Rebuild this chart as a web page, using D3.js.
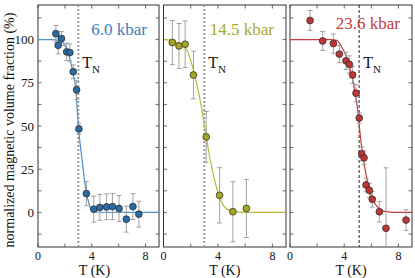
<!DOCTYPE html>
<html>
<head>
<meta charset="utf-8">
<script src="https://cdn.jsdelivr.net/npm/d3@7"></script>
<style>
  body { margin: 0; background: #fff; }
</style>
</head>
<body>
<div id="chart"></div>
<script>
// 6.0 kbar
var t60 = [1.33, 1.5, 1.75, 2.13, 2.37, 2.62, 2.87, 3.04, 3.6, 4.15, 4.6, 5.1, 5.54, 6.03, 6.57, 7.06, 7.5];
var f60 = [103.4, 96.7, 100.6, 92.9, 92.5, 81.4, 70.9, 48.3, 10.9, 1.9, 2.9, 3.2, 3.4, 2.3, -3.9, 3.4, -1];
var e60 = [4.8, 5, 4, 5, 5, 4, 5.5, 3, 7, 7.5, 7.5, 7.5, 7.5, 7.5, 7.5, 7.5, 7.5];
var fitT60 = [0, 1.0, 1.5, 1.88, 2.25, 2.57, 2.81, 3.0, 3.3, 3.55, 3.8, 4.1, 4.5, 9];
var fitF60 = [100, 100, 99.5, 98, 92, 82, 71, 50, 29, 13.4, 4.8, 1, 0.1, 0];

// 14.5 kbar
var t145 = [0.65, 1.14, 1.59, 2.2, 3.14, 4.12, 5.1, 6.09];
var f145 = [98.3, 96.3, 97.3, 79.5, 43.7, 9.9, 0.4, 2.3];
var e145 = [12.7, 13, 13.5, 13.8, 14.7, 16, 17.4, 16.8];
var fitT145 = [0, 0.5, 1.14, 1.59, 1.96, 2.32, 2.64, 2.94, 3.14, 3.43, 3.8, 4.17, 4.66, 5.4, 6.5, 9];
var fitF145 = [100, 99.8, 97.5, 95.7, 89, 78.5, 67, 53.6, 43.7, 30.6, 17.2, 7.6, 1.9, 0.3, 0, 0];

// 23.6 kbar
var t236 = [1.48, 2.41, 3.2, 3.64, 4.13, 4.38, 4.62, 4.87, 5.11, 5.29, 5.46, 5.61, 5.85, 6.07, 6.59, 7.08, 8.56];
var f236 = [111, 99.2, 97.7, 91.6, 87.7, 85.6, 79.5, 69, 54.6, 33.9, 31.6, 15.9, 12.8, 7.6, 0.4, -9.2, -4.4];
var e236 = [5.8, 5.5, 5.5, 5, 5, 5, 5, 5, 3, 4, 4, 4, 4, 4.5, 6, 35, 6];
var fitT236 = [0, 3.0, 3.45, 3.81, 4.06, 4.3, 4.55, 4.8, 5.0, 5.15, 5.3, 5.45, 5.6, 5.78, 6.15, 6.64, 7.25, 8, 9];
var fitF236 = [100, 100, 99.5, 95.7, 92, 86.2, 79.5, 69, 59, 47, 37, 29, 22.5, 15.3, 6.7, 1.9, 0.3, 0, 0];

var labels = ["6.0 kbar", "14.5 kbar", "23.6 kbar"];
var tN = [3.0, 3.0, 5.1];
var yTickLabels = [0, 25, 50, 75, 100];
var xTickLabels = [0, 4, 8];

(function() {
    var width = 415, height = 278;
    var yTop = 5, yBottom = 247;
    var serif = "'Liberation Serif', 'Times New Roman', serif";

    var panels = [
        { x0: 38, x1: 159, t: t60, f: f60, e: e60, ft: fitT60, ff: fitF60,
          dot: "#2c6aa3", line: "#4f8fcc", text: "#3b7dbd", labelY: 35, tnStyle: "dot", xLabelT: 4.2 },
        { x0: 163.5, x1: 286, t: t145, f: f145, e: e145, ft: fitT145, ff: fitF145,
          dot: "#a6a624", line: "#b8b93a", text: "#aaaa22", labelY: 35, tnStyle: "dot", xLabelT: 4.5 },
        { x0: 290, x1: 412, t: t236, f: f236, e: e236, ft: fitT236, ff: fitF236,
          dot: "#bf3636", line: "#c43c3c", text: "#c63a3a", labelY: 29, tnStyle: "dash", xLabelT: 4.5 }
    ];

    var svg = d3.select("#chart").append("svg")
        .attr("width", width)
        .attr("height", height)
        .attr("font-family", serif);

    var y = d3.scaleLinear().domain([-20, 120]).range([yBottom, yTop]);
    var yTicks = d3.range(-12.5, 120, 12.5);
    var xTicks = d3.range(0, 10, 2);

    panels.forEach(function(p, i) {
        var x = d3.scaleLinear().domain([0, 9]).range([p.x0, p.x1]);
        var g = svg.append("g");

        svg.append("clipPath").attr("id", "clip" + i)
            .append("rect")
            .attr("x", p.x0).attr("y", yTop)
            .attr("width", p.x1 - p.x0).attr("height", yBottom - yTop);

        // ticks, inward on all four sides
        var ticks = g.append("g").attr("stroke", "#444").attr("stroke-width", 0.8);
        yTicks.forEach(function(v) {
            ticks.append("line").attr("x1", p.x0).attr("x2", p.x0 + 3.5).attr("y1", y(v)).attr("y2", y(v));
            ticks.append("line").attr("x1", p.x1).attr("x2", p.x1 - 3.5).attr("y1", y(v)).attr("y2", y(v));
        });
        xTicks.forEach(function(v) {
            ticks.append("line").attr("x1", x(v)).attr("x2", x(v)).attr("y1", yBottom).attr("y2", yBottom - 3.5);
            ticks.append("line").attr("x1", x(v)).attr("x2", x(v)).attr("y1", yTop).attr("y2", yTop + 3.5);
        });

        // frame
        g.append("rect")
            .attr("x", p.x0).attr("y", yTop)
            .attr("width", p.x1 - p.x0).attr("height", yBottom - yTop)
            .attr("fill", "none").attr("stroke", "#333").attr("stroke-width", 1);

        // T_N marker
        var tn = g.append("line")
            .attr("x1", x(tN[i])).attr("x2", x(tN[i]))
            .attr("y1", yTop).attr("y2", yBottom);
        if (p.tnStyle === "dot") {
            tn.attr("stroke", "#999").attr("stroke-width", 2).attr("stroke-dasharray", "2,2");
        } else {
            tn.attr("stroke", "#222").attr("stroke-width", 1).attr("stroke-dasharray", "3,2");
        }

        var tnText = g.append("text")
            .attr("x", x(tN[i]) + 4).attr("y", 68)
            .attr("font-size", 16).attr("fill", "#111");
        tnText.append("tspan").text("T");
        tnText.append("tspan").attr("dy", 5).attr("font-size", 11).text("N");

        // fit curve
        var fit = p.ft.map(function(t, k) { return [t, p.ff[k]]; });
        var line = d3.line()
            .x(function(d) { return x(d[0]); })
            .y(function(d) { return y(d[1]); })
            .curve(d3.curveMonotoneX);
        g.append("path")
            .datum(fit)
            .attr("d", line)
            .attr("fill", "none")
            .attr("stroke", p.line)
            .attr("stroke-width", 1.2)
            .attr("clip-path", "url(#clip" + i + ")");

        // error bars
        var pts = p.t.map(function(t, k) { return { t: t, f: p.f[k], e: p.e[k] }; });
        var eb = g.append("g")
            .attr("stroke", "#999").attr("stroke-width", 0.9)
            .attr("clip-path", "url(#clip" + i + ")");
        pts.forEach(function(d) {
            var cx = x(d.t);
            eb.append("line").attr("x1", cx).attr("x2", cx).attr("y1", y(d.f - d.e)).attr("y2", y(d.f + d.e));
            eb.append("line").attr("x1", cx - 2.5).attr("x2", cx + 2.5).attr("y1", y(d.f - d.e)).attr("y2", y(d.f - d.e));
            eb.append("line").attr("x1", cx - 2.5).attr("x2", cx + 2.5).attr("y1", y(d.f + d.e)).attr("y2", y(d.f + d.e));
        });

        // points
        g.append("g")
            .selectAll("circle")
            .data(pts)
            .enter()
            .append("circle")
            .attr("cx", function(d) { return x(d.t); })
            .attr("cy", function(d) { return y(d.f); })
            .attr("r", 3.4)
            .attr("fill", p.dot)
            .attr("stroke", "#222")
            .attr("stroke-width", 0.7);

        // pressure label
        g.append("text")
            .attr("x", p.x1 - 12).attr("y", p.labelY)
            .attr("text-anchor", "end")
            .attr("font-size", 17)
            .attr("fill", p.text)
            .text(labels[i]);

        // x tick labels
        xTickLabels.forEach(function(v) {
            g.append("text")
                .attr("x", x(v)).attr("y", 260)
                .attr("text-anchor", "middle")
                .attr("font-size", 12)
                .attr("fill", "#111")
                .text(v);
        });

        g.append("text")
            .attr("x", x(p.xLabelT)).attr("y", 275)
            .attr("text-anchor", "middle")
            .attr("font-size", 14)
            .attr("fill", "#111")
            .text("T (K)");

        if (i === 0) {
            yTickLabels.forEach(function(v) {
                g.append("text")
                    .attr("x", p.x0 - 4).attr("y", y(v) + 4.5)
                    .attr("text-anchor", "end")
                    .attr("font-size", 13)
                    .attr("fill", "#111")
                    .text(v);
            });
        }
    });

    svg.append("text")
        .attr("transform", "translate(14,130) rotate(-90)")
        .attr("text-anchor", "middle")
        .attr("font-size", 14)
        .attr("fill", "#111")
        .text("normalized magnetic volume fraction (%)");
})();
</script>
</body>
</html>
